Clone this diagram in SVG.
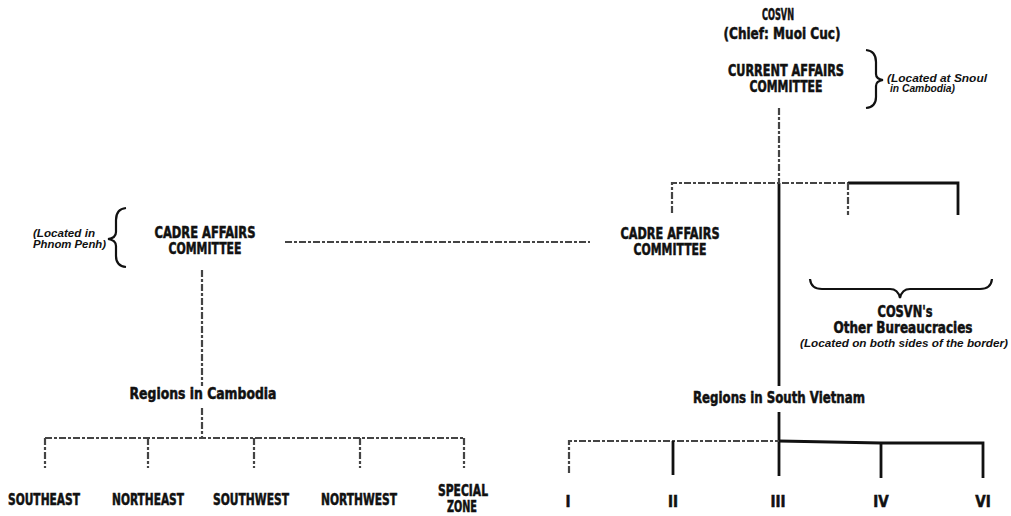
<svg xmlns="http://www.w3.org/2000/svg" width="1011" height="516" viewBox="0 0 1011 516">
<style>
.t{font-family:"DejaVu Sans Condensed","DejaVu Sans","Liberation Sans",sans-serif;font-weight:bold;fill:#111;text-anchor:middle;font-size:15px;stroke:#111;stroke-width:0.5}
.n{font-family:"Liberation Sans","DejaVu Sans",sans-serif;font-weight:bold;font-style:italic;fill:#111;font-size:10px}
.ln{stroke:#111;stroke-width:2.8;fill:none}
.fz{stroke:#444;stroke-width:2.2;fill:none;stroke-dasharray:7 2 3 2}
.br{stroke:#111;stroke-width:2.2;fill:none}
</style>
<rect width="1011" height="516" fill="#fff"/>
<g id="connectors">
  <path class="fz" d="M779 108 V183"/>
  <path class="ln" d="M779 183 V386"/>
  <path class="ln" d="M779 412 V476"/>
  <path class="fz" d="M672 213 V183 H848"/>
  <path class="ln" d="M848 183 H958 V215"/>
  <path class="fz" d="M848 183 V215"/>
  <path class="fz" d="M285 242 H590"/>
  <path class="fz" d="M202 270 V386"/>
  <path class="fz" d="M202 408 V438"/>
  <path class="fz" d="M45 438 H465"/>
  <path class="fz" d="M45 438 V468"/>
  <path class="fz" d="M148 438 V468"/>
  <path class="fz" d="M254 438 V468"/>
  <path class="fz" d="M360 438 V468"/>
  <path class="fz" d="M464 438 V468"/>
  <path class="fz" d="M569 473 V441 H779"/>
  <path class="ln" d="M779 441 L881 443 H983 V478"/>
  <path class="ln" d="M673 441 V475"/>
  <path class="ln" d="M881 443 V478"/>
</g>
<g id="cosvn">
  <text class="t" x="778" y="20" textLength="32" lengthAdjust="spacingAndGlyphs">COSVN</text>
  <text class="t" x="782" y="39" textLength="117" lengthAdjust="spacingAndGlyphs">(Chief: Muoi Cuc)</text>
</g>
<g id="current-affairs">
  <text class="t" x="786" y="76" textLength="116" lengthAdjust="spacingAndGlyphs">CURRENT AFFAIRS</text>
  <text class="t" x="786" y="92" textLength="73" lengthAdjust="spacingAndGlyphs">COMMITTEE</text>
  <path class="br" d="M866 50 Q876 51 876 62 V74 Q876 79 883 80 Q876 81 876 86 V97 Q876 107 866 108"/>
  <text class="n" x="887" y="82" textLength="100" lengthAdjust="spacingAndGlyphs">(Located at Snoul</text>
  <text class="n" x="890" y="92" textLength="65" lengthAdjust="spacingAndGlyphs">in Cambodia)</text>
</g>
<g id="cadre-left">
  <text class="t" x="205" y="238" textLength="101" lengthAdjust="spacingAndGlyphs">CADRE AFFAIRS</text>
  <text class="t" x="205" y="254" textLength="73" lengthAdjust="spacingAndGlyphs">COMMITTEE</text>
  <path class="br" d="M126 208 Q116 209 116 220 V232 Q116 238 108 239 Q116 240 116 246 V256 Q116 266 126 267"/>
  <text class="n" x="33" y="237" textLength="62" lengthAdjust="spacingAndGlyphs">(Located in</text>
  <text class="n" x="33" y="248" textLength="73" lengthAdjust="spacingAndGlyphs">Phnom Penh)</text>
</g>
<g id="cadre-right">
  <text class="t" x="670" y="239" textLength="99" lengthAdjust="spacingAndGlyphs">CADRE AFFAIRS</text>
  <text class="t" x="670" y="255" textLength="73" lengthAdjust="spacingAndGlyphs">COMMITTEE</text>
</g>
<g id="other-bureaucracies">
  <path class="br" d="M810 279 Q811 289 822 289 H890 Q898 289 900 298 Q902 289 910 289 H980 Q991 289 992 279"/>
  <text class="t" x="905" y="317" textLength="55" lengthAdjust="spacingAndGlyphs">COSVN's</text>
  <text class="t" x="903" y="333" textLength="139" lengthAdjust="spacingAndGlyphs">Other Bureaucracies</text>
  <text class="n" x="904" y="347" text-anchor="middle" textLength="208" lengthAdjust="spacingAndGlyphs">(Located on both sides of the border)</text>
</g>
<g id="regions-cambodia">
  <text class="t" x="203" y="399" textLength="147" lengthAdjust="spacingAndGlyphs">Regions in Cambodia</text>
</g>
<g id="regions-south-vietnam">
  <text class="t" x="779" y="403" textLength="172" lengthAdjust="spacingAndGlyphs">Regions in South Vietnam</text>
</g>
<g id="southeast"><text class="t" x="44" y="505" textLength="72" lengthAdjust="spacingAndGlyphs">SOUTHEAST</text></g>
<g id="northeast"><text class="t" x="148" y="505" textLength="72" lengthAdjust="spacingAndGlyphs">NORTHEAST</text></g>
<g id="southwest"><text class="t" x="251" y="505" textLength="76" lengthAdjust="spacingAndGlyphs">SOUTHWEST</text></g>
<g id="northwest"><text class="t" x="359" y="505" textLength="76" lengthAdjust="spacingAndGlyphs">NORTHWEST</text></g>
<g id="special-zone">
  <text class="t" x="463" y="496" textLength="50" lengthAdjust="spacingAndGlyphs">SPECIAL</text>
  <text class="t" x="462" y="512" textLength="30" lengthAdjust="spacingAndGlyphs">ZONE</text>
</g>
<g id="region-i"><text class="t" x="568" y="507">I</text></g>
<g id="region-ii"><text class="t" x="673" y="507">II</text></g>
<g id="region-iii"><text class="t" x="778" y="507">III</text></g>
<g id="region-iv"><text class="t" x="881" y="507">IV</text></g>
<g id="region-vi"><text class="t" x="983" y="507">VI</text></g>
</svg>
